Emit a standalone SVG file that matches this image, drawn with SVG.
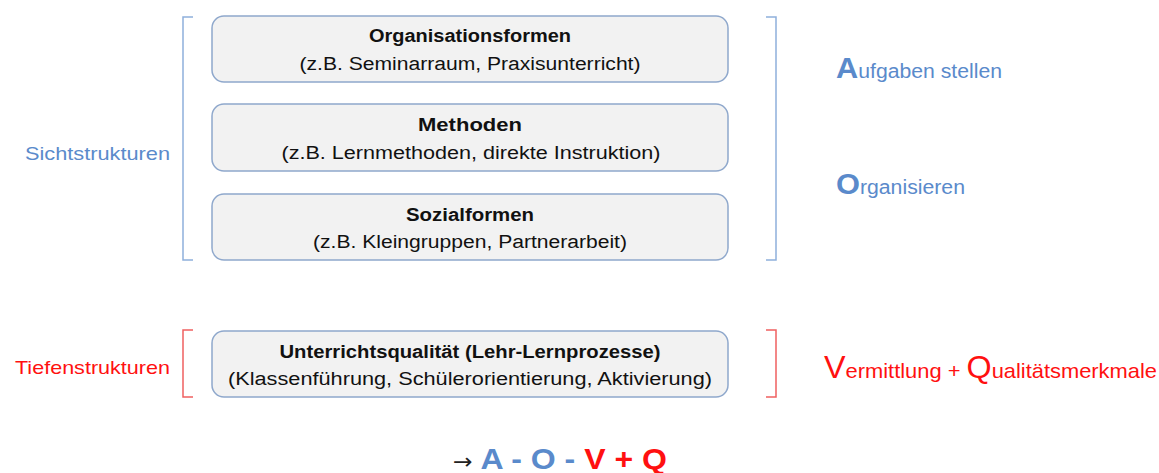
<svg xmlns="http://www.w3.org/2000/svg" width="1159" height="473" viewBox="0 0 1159 473">
<style>
text{font-family:"Liberation Sans","Open Sans",Arial,sans-serif}
.box{fill:#f2f2f2;stroke:#8fa8cc;stroke-width:1.5}
.t1{font-size:18px;font-weight:bold;fill:#111;text-anchor:middle}
.t2{font-size:18px;fill:#111;text-anchor:middle}
.bb{fill:none;stroke:#8fb0dc;stroke-width:1.5}
.rb{fill:none;stroke:#f06060;stroke-width:1.5}
.blue{fill:#5a8acb}
.red{fill:#ff1010}
</style>
<g id="connectors">
<path class="bb" d="M193,17 H183 V260 H193"/>
<path class="bb" d="M766,17 H776 V260 H766"/>
<path class="rb" d="M193,330 H183 V397 H193"/>
<path class="rb" d="M766,330 H776 V397 H766"/>
</g>
<g id="organisationsformen">
<rect class="box" x="212" y="16" width="516" height="66" rx="12"/>
<text class="t1" x="470" y="42" textLength="202" lengthAdjust="spacingAndGlyphs">Organisationsformen</text>
<text class="t2" x="470" y="70" textLength="341" lengthAdjust="spacingAndGlyphs">(z.B. Seminarraum, Praxisunterricht)</text>
</g>
<g id="methoden">
<rect class="box" x="212" y="104" width="516" height="67" rx="12"/>
<text class="t1" x="470" y="131" textLength="104" lengthAdjust="spacingAndGlyphs">Methoden</text>
<text class="t2" x="471" y="159" textLength="379" lengthAdjust="spacingAndGlyphs">(z.B. Lernmethoden, direkte Instruktion)</text>
</g>
<g id="sozialformen">
<rect class="box" x="212" y="194" width="516" height="66" rx="12"/>
<text class="t1" x="470" y="221" textLength="128" lengthAdjust="spacingAndGlyphs">Sozialformen</text>
<text class="t2" x="470" y="248" textLength="314" lengthAdjust="spacingAndGlyphs">(z.B. Kleingruppen, Partnerarbeit)</text>
</g>
<g id="unterrichtsqualitaet">
<rect class="box" x="212" y="331" width="516" height="66" rx="12"/>
<text class="t1" x="470" y="358" textLength="381" lengthAdjust="spacingAndGlyphs">Unterrichtsqualität (Lehr-Lernprozesse)</text>
<text class="t2" x="470" y="385" textLength="484" lengthAdjust="spacingAndGlyphs">(Klassenführung, Schülerorientierung, Aktivierung)</text>
</g>
<g id="sichtstrukturen">
<text class="blue" x="25" y="160" font-size="19" textLength="145" lengthAdjust="spacingAndGlyphs">Sichtstrukturen</text>
</g>
<g id="tiefenstrukturen">
<text class="red" x="15" y="374" font-size="19" textLength="155" lengthAdjust="spacingAndGlyphs">Tiefenstrukturen</text>
</g>
<g id="aufgaben">
<text class="blue" x="836" y="78" textLength="166" lengthAdjust="spacingAndGlyphs"><tspan font-size="29" font-weight="bold">A</tspan><tspan font-size="20">ufgaben stellen</tspan></text>
</g>
<g id="organisieren">
<text class="blue" x="836" y="194" textLength="129" lengthAdjust="spacingAndGlyphs"><tspan font-size="29" font-weight="bold">O</tspan><tspan font-size="20">rganisieren</tspan></text>
</g>
<g id="vermittlung">
<text class="red" x="824" y="378" textLength="333" lengthAdjust="spacingAndGlyphs"><tspan font-size="31">V</tspan><tspan font-size="21">ermittlung + </tspan><tspan font-size="31">Q</tspan><tspan font-size="21">ualitätsmerkmale</tspan></text>
</g>
<g id="formel">
<text x="453" y="469" font-size="30" font-weight="bold" textLength="214" lengthAdjust="spacingAndGlyphs"><tspan fill="#222" font-weight="normal" font-size="22" font-family="DejaVu Sans, sans-serif">→</tspan><tspan class="blue"> A - O - </tspan><tspan class="red">V + Q</tspan></text>
</g>
</svg>
